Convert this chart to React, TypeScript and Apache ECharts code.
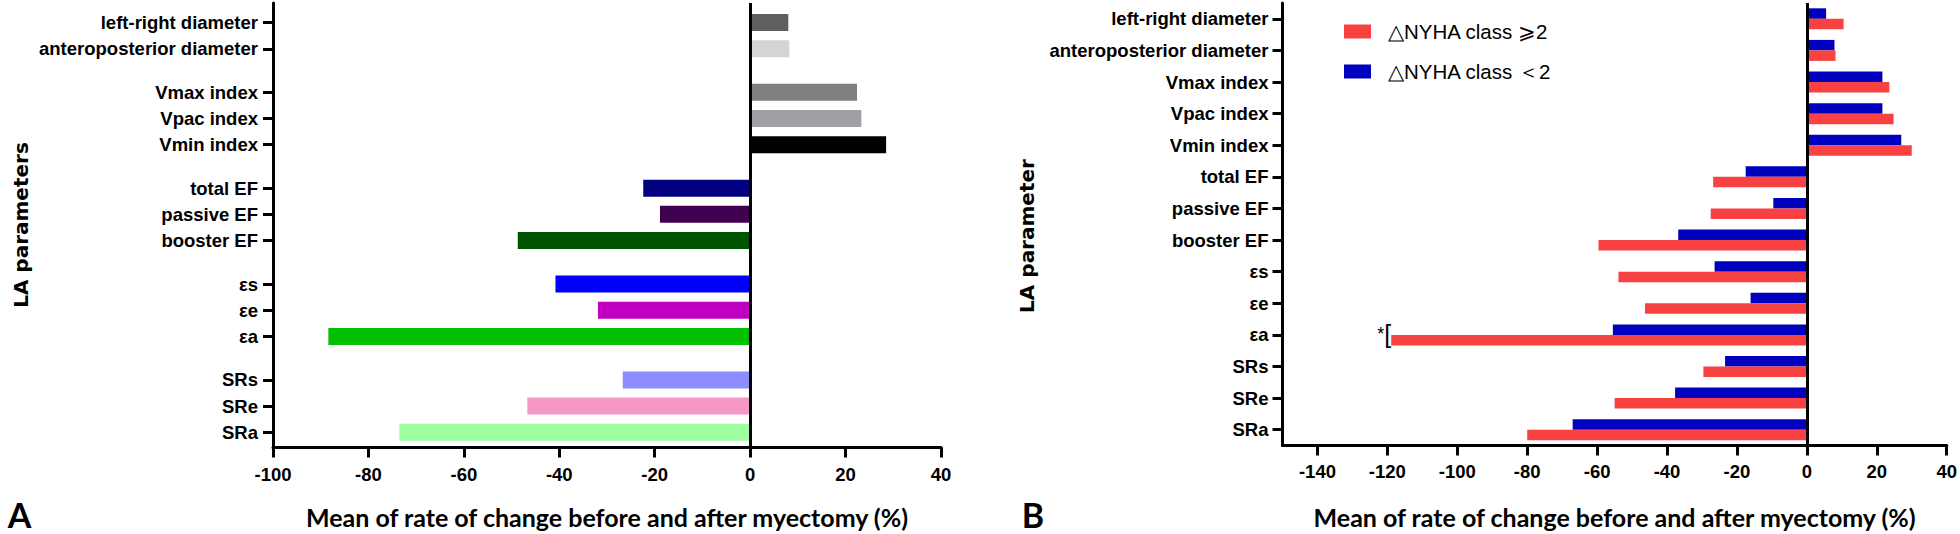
import React, { useEffect, useRef } from "react";
import * as echarts from "echarts";

// ---------- data ----------
const categories = [
  "left-right diameter",
  "anteroposterior diameter",
  "Vmax index",
  "Vpac index",
  "Vmin index",
  "total EF",
  "passive EF",
  "booster EF",
  "εs",
  "εe",
  "εa",
  "SRs",
  "SRe",
  "SRa",
];
// Panel A: overall mean rate of change (%)
const overallValues = [8.0, 8.2, 22.4, 23.3, 28.5, -22.4, -18.9, -48.7, -40.8, -31.9, -88.4, -26.7, -46.7, -73.5];
// Panel A group starts (indices that begin a new group, separated by a wider gap)
const groupStarts = [2, 5, 8, 11];
// Panel B: by NYHA change
const seriesNames = ["△NYHA class ⩾2", "△NYHA class ＜2"];
const highValues = [10.5, 8.2, 23.6, 24.8, 30.0, -26.8, -27.5, -59.6, -53.9, -46.3, -118.9, -29.6, -55.0, -80.0];
const lowValues = [5.5, 7.9, 21.6, 21.6, 27.0, -17.5, -9.6, -36.8, -26.4, -16.1, -55.5, -23.4, -37.7, -67.0];
const rightTickValues = [-140, -120, -100, -80, -60, -40, -20, 0, 20, 40];
const significance = { category: "εa", mark: "*" };
const xTitle = "Mean of rate of change before and after myectomy (%)";

// ---------- styles ----------
const barColorsA = [
  "#606060", "#d4d4d4", "#808080", "#a0a0a4", "#000000",
  "#000080", "#420050", "#005400", "#0000ff", "#c000c0",
  "#00c000", "#8c8cff", "#f799c6", "#a0ffa0",
];
const RED = "#f84242";
const BLUE = "#0000bf";
const LABEL_FONT = "'Liberation Sans', Arial, sans-serif";
const TITLE_FONT = "Lato, 'Open Sans', sans-serif";

// slot layout for panel A (fine category slots to reproduce group gaps)
const SLOT_TOP = 4, SLOT_STEP = 6, SLOT_GAP = 10, SLOT_BOTTOM = 3;
function buildSlots(): string[] {
  const slots: string[] = [];
  let k = 0;
  const blank = () => slots.push("__" + k++);
  for (let i = 0; i < SLOT_TOP; i++) blank();
  categories.forEach((c, i) => {
    if (i > 0) {
      const n = (groupStarts.includes(i) ? SLOT_GAP : SLOT_STEP) - 1;
      for (let j = 0; j < n; j++) blank();
    }
    slots.push(c);
  });
  for (let i = 0; i < SLOT_BOTTOM; i++) blank();
  return slots;
}

export default function App() {
  const ref = useRef<HTMLDivElement>(null);
  useEffect(() => {
    if (!ref.current) return;
    const chart = echarts.init(ref.current, undefined, { renderer: "svg" });
    const slots = buildSlots();
    const isReal = (_i: number, v: string) => !String(v).startsWith("__");

    const axisLine = { show: true, onZero: false, lineStyle: { color: "#000", width: 3 } };
    const tickStyle = { color: "#000", width: 3 };
    const labelStyle = { color: "#000", fontFamily: LABEL_FONT, fontWeight: "bold" as const, fontSize: 18.5 };
    const nameStyle = {
      color: "#000", fontFamily: TITLE_FONT, fontWeight: "bold" as const, fontSize: 25, verticalAlign: "middle" as const,
    };
    const zeroLine = {
      silent: true,
      symbol: ["none", "none"],
      label: { show: false },
      lineStyle: { color: "#000", width: 3, type: "solid" as const },
      data: [{ xAxis: 0 }],
    };

    const sigIdx = categories.indexOf(significance.category);

    chart.setOption({
      animation: false,
      grid: [
        { left: 273, top: 3, width: 668, height: 446.3 },
        { left: 1282.5, top: 3, width: 666.3, height: 444.2 },
      ],
      legend: {
        data: seriesNames,
        orient: "vertical",
        left: 1339,
        top: 16,
        itemWidth: 27,
        itemHeight: 14,
        itemGap: 19,
        icon: "rect",
        textStyle: { color: "#000", fontFamily: LABEL_FONT, fontSize: 20.5, padding: [0, 0, 0, 12] },
      },
      xAxis: [
        {
          type: "value",
          gridIndex: 0,
          min: -100,
          max: 40,
          interval: 20,
          splitLine: { show: false },
          axisLine,
          axisTick: { show: true, length: 10, lineStyle: tickStyle },
          axisLabel: { ...labelStyle, margin: 17 },
          name: xTitle,
          nameLocation: "middle",
          nameGap: 69,
          nameTextStyle: nameStyle,
        },
        {
          type: "value",
          gridIndex: 1,
          min: -150,
          max: 40,
          splitLine: { show: false },
          axisLine,
          axisTick: { show: true, length: 10, lineStyle: tickStyle, customValues: rightTickValues },
          axisLabel: { ...labelStyle, margin: 16, customValues: rightTickValues },
          name: xTitle,
          nameLocation: "middle",
          nameGap: 71,
          nameTextStyle: nameStyle,
        },
      ],
      yAxis: [
        {
          type: "category",
          gridIndex: 0,
          inverse: true,
          data: slots,
          axisLine,
          axisTick: { show: true, length: 10, alignWithLabel: true, interval: isReal, lineStyle: tickStyle },
          axisLabel: {
            ...labelStyle,
            margin: 15,
            interval: isReal,
            formatter: (v: string) => (v.startsWith("__") ? "" : v),
          },
        },
        {
          type: "category",
          gridIndex: 1,
          inverse: true,
          data: categories,
          axisLine,
          axisTick: { show: true, length: 10, alignWithLabel: true, lineStyle: tickStyle },
          axisLabel: { ...labelStyle, margin: 14, interval: 0 },
        },
      ],
      series: [
        {
          name: "overall",
          type: "bar",
          xAxisIndex: 0,
          yAxisIndex: 0,
          barWidth: 17,
          data: slots.map((s) => {
            const i = categories.indexOf(s);
            return i < 0 ? null : { value: overallValues[i], itemStyle: { color: barColorsA[i] } };
          }),
          markLine: zeroLine,
        },
        {
          name: seriesNames[1],
          type: "bar",
          xAxisIndex: 1,
          yAxisIndex: 1,
          barWidth: 10.5,
          barGap: "0%",
          itemStyle: { color: BLUE },
          data: lowValues,
        },
        {
          name: seriesNames[0],
          type: "bar",
          xAxisIndex: 1,
          yAxisIndex: 1,
          barWidth: 10.5,
          barGap: "0%",
          itemStyle: { color: RED },
          data: highValues.map((v, i) =>
            i === sigIdx
              ? {
                  value: v,
                  label: {
                    show: true,
                    position: "left",
                    distance: 0,
                    offset: [0, -6],
                    formatter: "{s|" + significance.mark + "}{b|[}",
                    rich: {
                      s: { fontSize: 18, fontFamily: LABEL_FONT, color: "#000" },
                      b: { fontSize: 25, fontFamily: LABEL_FONT, color: "#000" },
                    },
                  },
                }
              : v
          ),
          markLine: zeroLine,
        },
      ],
      graphic: [
        {
          type: "text",
          x: 21,
          y: 225,
          rotation: Math.PI / 2,
          style: {
            text: "LA parameters",
            fontFamily: "'DejaVu Sans', sans-serif",
            fontWeight: "bold",
            fontSize: 20,
            fill: "#000",
            align: "center",
            verticalAlign: "middle",
          },
        },
        {
          type: "text",
          x: 1027,
          y: 236,
          rotation: Math.PI / 2,
          style: {
            text: "LA parameter",
            fontFamily: "'DejaVu Sans', sans-serif",
            fontWeight: "bold",
            fontSize: 20,
            fill: "#000",
            align: "center",
            verticalAlign: "middle",
          },
        },
        {
          type: "text",
          x: 19.5,
          y: 514,
          style: {
            text: "A",
            fontFamily: TITLE_FONT,
            fontWeight: "bold",
            fontSize: 34,
            lineHeight: 34,
            fill: "#000",
            align: "center",
            verticalAlign: "middle",
          },
        },
        {
          type: "text",
          x: 1033,
          y: 514,
          style: {
            text: "B",
            fontFamily: TITLE_FONT,
            fontWeight: "bold",
            fontSize: 34,
            lineHeight: 34,
            fill: "#000",
            align: "center",
            verticalAlign: "middle",
          },
        },
      ],
    });
    return () => chart.dispose();
  }, []);
  return (
    <div
      ref={ref}
      style={{ position: "absolute", left: 0, top: 0, width: 1960, height: 534, background: "#fff" }}
    />
  );
}
